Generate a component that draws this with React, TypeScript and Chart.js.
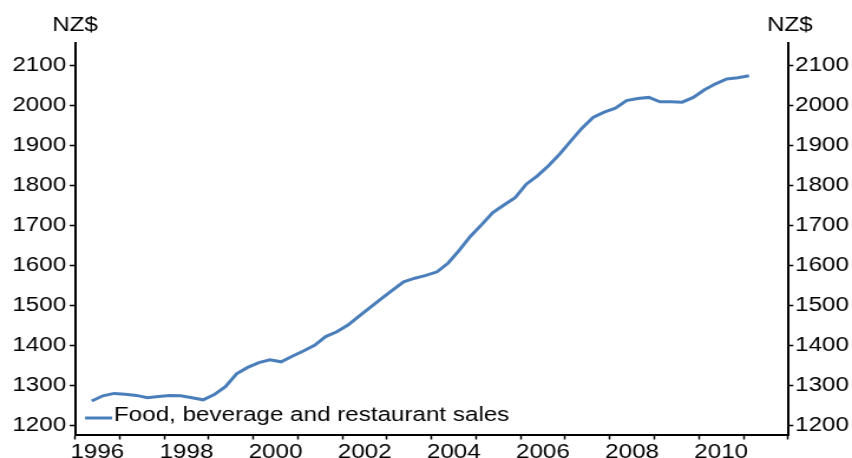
import React, { useEffect, useRef } from 'react';
import { Chart, registerables } from 'chart.js';

Chart.register(...registerables);

// ---- data ----
const quarterLabels = [
  '1996Q2', '1996Q3', '1996Q4',
  '1997Q1', '1997Q2', '1997Q3', '1997Q4',
  '1998Q1', '1998Q2', '1998Q3', '1998Q4',
  '1999Q1', '1999Q2', '1999Q3', '1999Q4',
  '2000Q1', '2000Q2', '2000Q3', '2000Q4',
  '2001Q1', '2001Q2', '2001Q3', '2001Q4',
  '2002Q1', '2002Q2', '2002Q3', '2002Q4',
  '2003Q1', '2003Q2', '2003Q3', '2003Q4',
  '2004Q1', '2004Q2', '2004Q3', '2004Q4',
  '2005Q1', '2005Q2', '2005Q3', '2005Q4',
  '2006Q1', '2006Q2', '2006Q3', '2006Q4',
  '2007Q1', '2007Q2', '2007Q3', '2007Q4',
  '2008Q1', '2008Q2', '2008Q3', '2008Q4',
  '2009Q1', '2009Q2', '2009Q3', '2009Q4',
  '2010Q1', '2010Q2', '2010Q3', '2010Q4',
  '2011Q1',
];

const salesValues = [
  1260, 1273, 1279,
  1277, 1274, 1268, 1271,
  1274, 1273, 1268, 1263,
  1276, 1296, 1328, 1344,
  1356, 1363, 1358, 1372,
  1385, 1399, 1421, 1433,
  1450, 1472, 1494, 1516,
  1537, 1558, 1567, 1574,
  1583, 1605, 1637, 1672,
  1701, 1731, 1750, 1768,
  1802, 1823, 1848, 1877,
  1910, 1942, 1969, 1982,
  1992, 2011, 2016, 2019,
  2008, 2008, 2007, 2019,
  2038, 2053, 2065, 2068,
  2073,
];

const seriesName = 'Food, beverage and restaurant sales';
const unitLabel = 'NZ$';
const yTicks = [1200, 1300, 1400, 1500, 1600, 1700, 1800, 1900, 2000, 2100];
const xTickYears = [1996, 1997, 1998, 1999, 2000, 2001, 2002, 2003, 2004, 2005, 2006, 2007, 2008, 2009, 2010, 2011, 2012];
const xTickLabels = ['1996', '1998', '2000', '2002', '2004', '2006', '2008', '2010'];

// ---- styling ----
const SX = 1.18; // horizontal stretch of the reference
const CSS_W = 852;
const CSS_H = 458;
const W = Math.round(CSS_W / SX);
const H = CSS_H;
const FONT = 'Liberation Sans, Arial, sans-serif';
const FS = 20.5;
const LINE_COLOR = '#4A7EBB';
const LINE_W = 3;

const quarterToX = (label: string) => {
  const year = parseInt(label.slice(0, 4), 10);
  const q = parseInt(label.slice(5), 10);
  return year + (q - 0.5) / 4;
};

const overlay = {
  id: 'overlay',
  afterDraw(chart: any) {
    const { ctx, chartArea } = chart;
    ctx.save();
    ctx.fillStyle = '#000';
    ctx.font = `${FS}px ${FONT}`;
    ctx.textAlign = 'center';
    ctx.textBaseline = 'alphabetic';
    ctx.fillText(unitLabel, chartArea.left, 31);
    ctx.fillText(unitLabel, chartArea.right + 1.5, 31);
    // legend
    ctx.strokeStyle = LINE_COLOR;
    ctx.lineWidth = LINE_W;
    ctx.beginPath();
    ctx.moveTo(chartArea.left + 8.5, 418);
    ctx.lineTo(chartArea.left + 31.5, 418);
    ctx.stroke();
    ctx.textAlign = 'left';
    ctx.fillText(seriesName, chartArea.left + 33, 420.7);
    ctx.restore();
  },
};

export default function App() {
  const ref = useRef<HTMLCanvasElement | null>(null);

  useEffect(() => {
    if (!ref.current) return;
    const tickFont = { family: FONT, size: FS };
    const yCommon = {
      type: 'linear' as const,
      min: 1175,
      max: 2155,
      afterBuildTicks: (scale: any) => {
        scale.ticks = yTicks.map((v) => ({ value: v }));
      },
      grid: {
        drawOnChartArea: false,
        drawTicks: true,
        tickLength: 4.5,
        tickColor: '#000',
        tickWidth: 1.5,
      },
      border: { display: true, color: '#000', width: 2 },
      ticks: { font: tickFont, color: '#000', callback: (value: any) => String(value) },
    };

    const chart = new Chart(ref.current, {
      type: 'line',
      data: {
        datasets: [
          {
            label: seriesName,
            data: quarterLabels.map((q, i) => ({ x: quarterToX(q), y: salesValues[i] })),
            borderColor: LINE_COLOR,
            backgroundColor: LINE_COLOR,
            borderWidth: LINE_W,
            pointRadius: 0,
            tension: 0,
            yAxisID: 'y',
          },
        ],
      },
      options: {
        animation: false,
        responsive: false,
        devicePixelRatio: 1,
        layout: { padding: { top: 43, left: 0, right: 0, bottom: 0 } },
        plugins: {
          legend: { display: false },
          tooltip: { enabled: false },
        },
        scales: {
          x: {
            type: 'linear',
            min: 1996,
            max: 2012,
            afterBuildTicks: (scale: any) => {
              scale.ticks = xTickYears.map((v) => ({ value: v }));
            },
            afterFit: (scale: any) => {
              scale.height = 23;
            },
            grid: {
              drawOnChartArea: false,
              drawTicks: true,
              tickLength: 4.5,
              tickColor: '#000',
              tickWidth: 1.5,
            },
            border: { display: true, color: '#000', width: 2 },
            ticks: {
              font: tickFont,
              color: '#000',
              autoSkip: false,
              maxRotation: 0,
              minRotation: 0,
              labelOffset: 18.9,
              padding: 1,
              callback: (value: any) => (xTickLabels.includes(String(value)) ? String(value) : ''),
            },
          },
          y: {
            ...yCommon,
            position: 'left',
            afterFit: (scale: any) => {
              scale.width = 75 / SX;
            },
            ticks: { ...yCommon.ticks, padding: 3 },
          },
          y2: {
            ...yCommon,
            position: 'right',
            afterFit: (scale: any) => {
              scale.width = W - 788 / SX;
            },
            ticks: { ...yCommon.ticks, padding: 1.5 },
          },
        },
      },
      plugins: [overlay],
    } as any);

    return () => chart.destroy();
  }, []);

  return (
    <div style={{ position: 'absolute', left: 0, top: 0, width: CSS_W, height: CSS_H, background: '#fff' }}>
      <canvas
        ref={ref}
        width={W}
        height={H}
        style={{ width: `${CSS_W}px`, height: `${CSS_H}px`, display: 'block' }}
      />
    </div>
  );
}
